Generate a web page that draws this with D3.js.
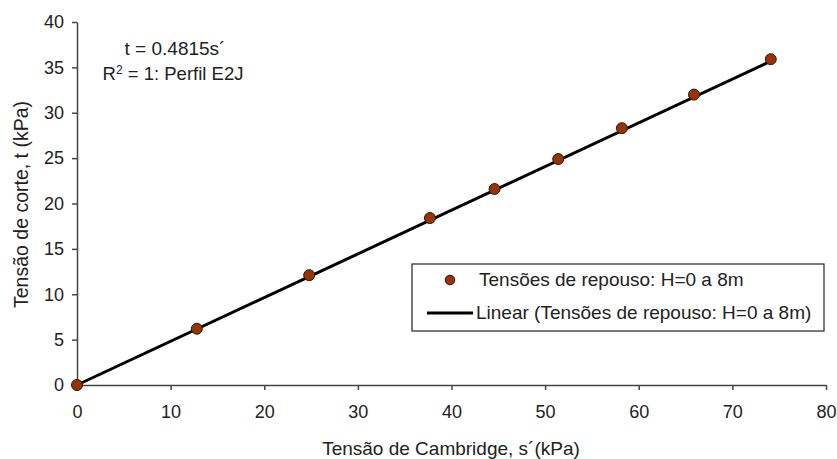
<!DOCTYPE html>
<html>
<head>
<meta charset="utf-8">
<script src="https://cdn.jsdelivr.net/npm/d3@7"></script>
<style>
  html, body { margin: 0; padding: 0; background: #fff; }
  svg text { font-family: "Liberation Sans", Arial, sans-serif; fill: #222; }
</style>
</head>
<body>
<svg id="chart" width="837" height="459"></svg>
<script>
// Cambridge stress s' (kPa) and shear stress t (kPa) at rest, H = 0 to 8 m
const sValues = [0, 12.8, 24.8, 37.7, 44.6, 51.4, 58.2, 65.9, 74.1];
const tValues = [0, 6.2, 12.1, 18.4, 21.6, 24.9, 28.3, 32.0, 35.9];
const slope = 0.4815;
const xTicks = [0, 10, 20, 30, 40, 50, 60, 70, 80];
const yTicks = [0, 5, 10, 15, 20, 25, 30, 35, 40];
const seriesName = "Tensões de repouso: H=0 a 8m";
const trendName = "Linear (Tensões de repouso: H=0 a 8m)";
const xTitle = "Tensão de Cambridge, s´(kPa)";
const yTitle = "Tensão de corte, t (kPa)";

const svg = d3.select("#chart");
const x = d3.scaleLinear().domain([0, 80]).range([77, 826]);
const y = d3.scaleLinear().domain([0, 40]).range([385, 22]);
const axisColor = "#444";
const fontFamily = "Liberation Sans, Arial, sans-serif";

// axes
const gx = svg.append("g").attr("transform", `translate(0,${y(0)})`)
  .call(d3.axisBottom(x).tickValues(xTicks).tickSize(5).tickPadding(8).tickSizeOuter(0));
const gy = svg.append("g").attr("transform", `translate(${x(0)},0)`)
  .call(d3.axisLeft(y).tickValues(yTicks).tickSize(5).tickPadding(8).tickSizeOuter(0));
[gx, gy].forEach(g => {
  g.selectAll("path, line").attr("stroke", axisColor).attr("stroke-width", 1.5);
  g.selectAll("text").attr("font-size", 18).style("fill", "#222")
    .attr("font-family", fontFamily);
});
gx.selectAll("text").attr("y", 33).attr("dy", 0);

// axis titles
svg.append("text").attr("x", 451).attr("y", 455).attr("text-anchor", "middle")
  .attr("font-size", 19).text(xTitle);
svg.append("text").attr("transform", `translate(28,${y(20) + 1}) rotate(-90)`)
  .attr("text-anchor", "middle").attr("font-size", 19.5).text(yTitle);

// linear trend
const sMax = d3.max(sValues);
svg.append("line")
  .attr("x1", x(0)).attr("y1", y(0))
  .attr("x2", x(sMax)).attr("y2", y(slope * sMax))
  .attr("stroke", "#000").attr("stroke-width", 3);

// data points
svg.append("g").selectAll("circle").data(sValues).join("circle")
  .attr("cx", d => x(d)).attr("cy", (d, i) => y(tValues[i]))
  .attr("r", 5.5).attr("fill", "#993300").attr("stroke", "#2a1a10").attr("stroke-width", 1);

// equation annotation
svg.append("text").attr("x", 175).attr("y", 55).attr("text-anchor", "middle")
  .attr("font-size", 19).text("t = 0.4815s´");
const r2 = svg.append("text").attr("x", 173).attr("y", 80).attr("text-anchor", "middle")
  .attr("font-size", 18.5);
r2.append("tspan").text("R");
r2.append("tspan").attr("font-size", 12).attr("dy", -6).text("2");
r2.append("tspan").attr("dy", 6).text(" = 1: Perfil E2J");

// legend
const lg = svg.append("g");
lg.append("rect").attr("x", 412).attr("y", 264).attr("width", 412).attr("height", 67)
  .attr("fill", "#fff").attr("stroke", "#222").attr("stroke-width", 1.2);
lg.append("circle").attr("cx", 450).attr("cy", 280).attr("r", 4.8)
  .attr("fill", "#993300").attr("stroke", "#2a1a10").attr("stroke-width", 1);
lg.append("text").attr("x", 479).attr("y", 286).attr("font-size", 19).text(seriesName);
lg.append("line").attr("x1", 427).attr("x2", 473).attr("y1", 313).attr("y2", 313)
  .attr("stroke", "#000").attr("stroke-width", 3);
lg.append("text").attr("x", 476).attr("y", 319).attr("font-size", 19).text(trendName);
</script>
</body>
</html>
